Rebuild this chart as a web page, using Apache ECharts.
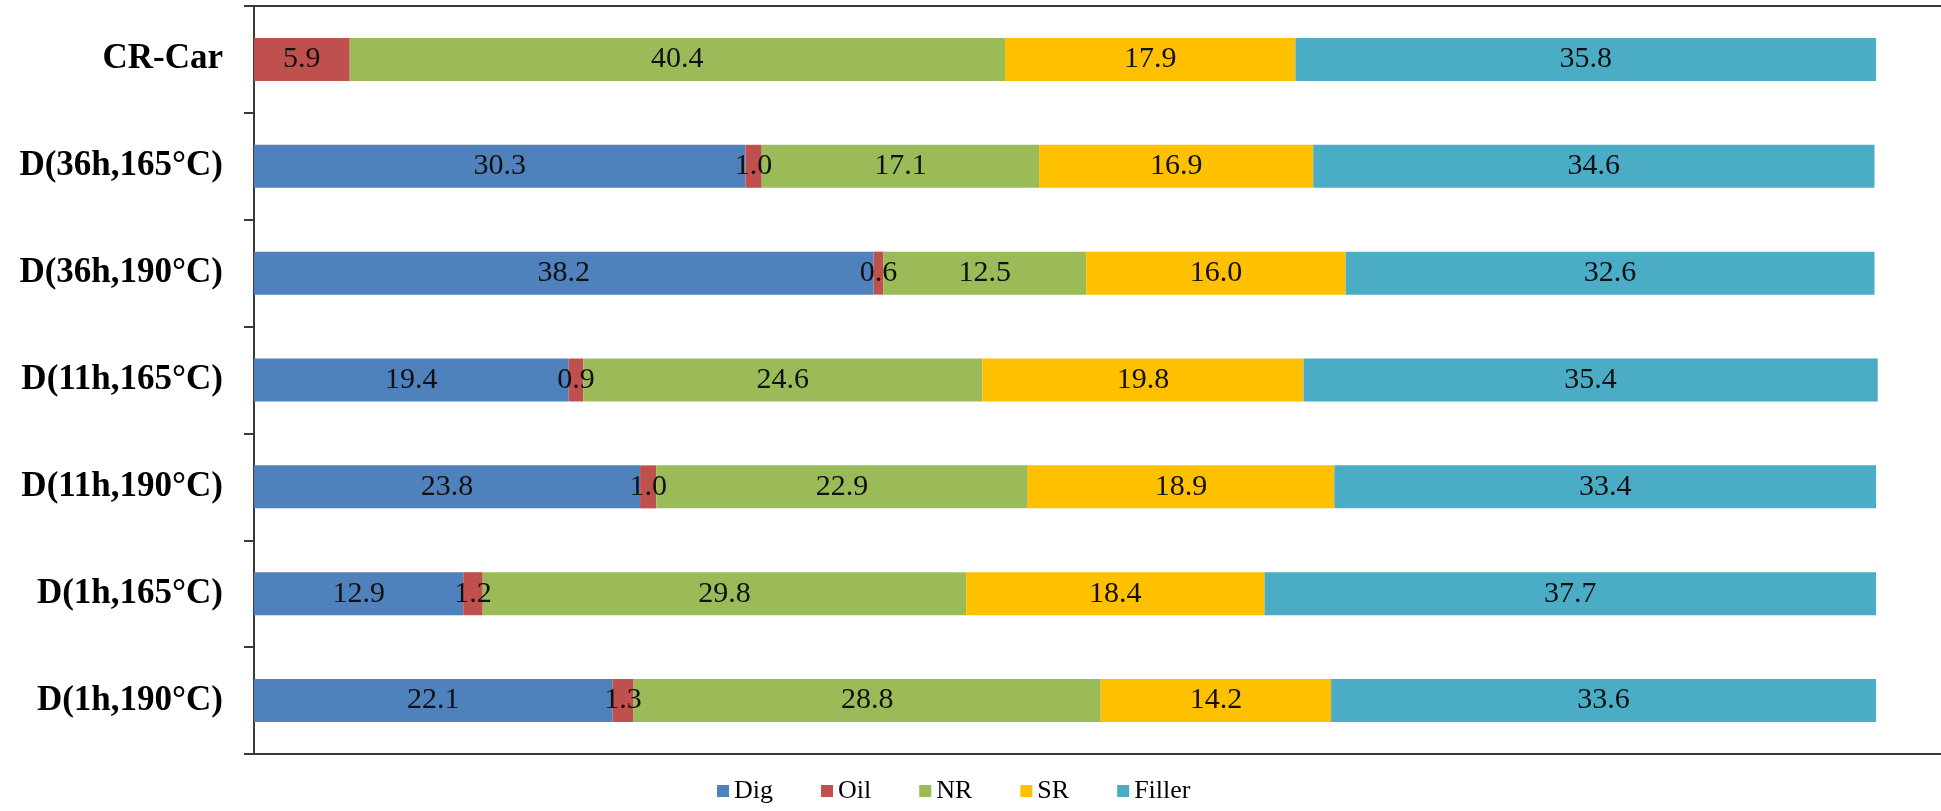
<!DOCTYPE html>
<html>
<head>
<meta charset="utf-8">
<title>Composition by sample</title>
<script src="https://cdn.jsdelivr.net/npm/echarts@6/dist/echarts.min.js"></script>
<style>
  html, body { margin: 0; padding: 0; background: #fff; }
  #chart { width: 1941px; height: 811px; }
</style>
</head>
<body>
<div id="chart"></div>
<script>
// Samples, top to bottom
const categories = ['CR-Car', 'D(36h,165°C)', 'D(36h,190°C)', 'D(11h,165°C)', 'D(11h,190°C)', 'D(1h,165°C)', 'D(1h,190°C)'];

// Composition (%) of each sample
const dig    = [null, 30.3, 38.2, 19.4, 23.8, 12.9, 22.1];
const oil    = [5.9, 1.0, 0.6, 0.9, 1.0, 1.2, 1.3];
const nr     = [40.4, 17.1, 12.5, 24.6, 22.9, 29.8, 28.8];
const sr     = [17.9, 16.9, 16.0, 19.8, 18.9, 18.4, 14.2];
const filler = [35.8, 34.6, 32.6, 35.4, 33.4, 37.7, 33.6];

const seriesNames = ['Dig', 'Oil', 'NR', 'SR', 'Filler'];
const seriesData = [dig, oil, nr, sr, filler];
const colors = ['#4F81BD', '#C0504D', '#9BBB59', '#FFC000', '#4BACC6'];

const serif = '"Liberation Serif", "Times New Roman", serif';
const lineColor = '#3a3a3a';

const chart = echarts.init(document.getElementById('chart'), null, { renderer: 'canvas' });

chart.setOption({
  animation: false,
  backgroundColor: '#ffffff',
  color: colors,
  grid: { left: 254, right: 0, top: 6, bottom: 57, containLabel: false },
  legend: {
    left: 712,
    top: 773,
    itemWidth: 12,
    itemHeight: 12,
    itemGap: 48,
    icon: 'rect',
    textStyle: { fontFamily: serif, fontSize: 26, color: '#000' },
    data: seriesNames
  },
  xAxis: [
    {
      type: 'value',
      position: 'bottom',
      min: 0,
      max: 104,
      axisLine: { show: true, lineStyle: { color: lineColor, width: 2 } },
      axisTick: { show: false },
      axisLabel: { show: false },
      splitLine: { show: false }
    },
    {
      type: 'value',
      position: 'top',
      min: 0,
      max: 104,
      axisLine: { show: true, lineStyle: { color: lineColor, width: 2 } },
      axisTick: { show: false },
      axisLabel: { show: false },
      splitLine: { show: false }
    }
  ],
  yAxis: {
    type: 'category',
    data: categories,
    inverse: true,
    axisLine: { show: true, lineStyle: { color: lineColor, width: 2 } },
    axisTick: { show: true, length: 10, inside: false, lineStyle: { color: lineColor, width: 2 } },
    axisLabel: {
      margin: 31,
      fontFamily: serif,
      fontSize: 35,
      fontWeight: 'bold',
      color: '#000'
    }
  },
  series: seriesNames.map((name, i) => ({
    name: name,
    type: 'bar',
    stack: 'total',
    xAxisIndex: 0,
    barWidth: 43,
    data: seriesData[i],
    itemStyle: { color: colors[i] },
    label: {
      show: true,
      position: 'inside',
      fontFamily: serif,
      fontSize: 30,
      color: '#111',
      formatter: p => (p.value == null ? '' : Number(p.value).toFixed(1))
    }
  }))
});
</script>
</body>
</html>
